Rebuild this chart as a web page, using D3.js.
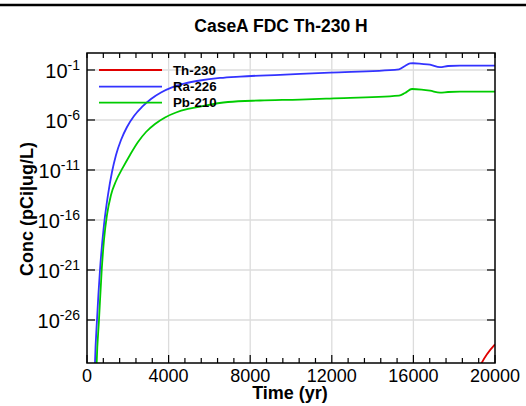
<!DOCTYPE html>
<html><head><meta charset="utf-8">
<script src="https://cdn.jsdelivr.net/npm/d3@7"></script>
<style>body{margin:0;background:#fff;}svg{display:block;font-family:"Liberation Sans",Arial,sans-serif;}</style>
</head><body><svg id="c" width="526" height="406"></svg>
<script>
const title = "CaseA FDC Th-230 H";
const xLabel = "Time (yr)";
const yLabel = "Conc (pCi|ug/L)";
const seriesNames = ["Th-230", "Ra-226", "Pb-210"];
const seriesColors = ["#e00000", "#3333ff", "#00cc00"];
const xTicks = [0, 4000, 8000, 12000, 16000, 20000];
const yTickExponents = [-1, -6, -11, -16, -21, -26];
const th230 = [[19000, 1e-32], [19348, 5e-31], [20000, 3.7e-29]];
const ra226 = [[360, 1e-33], [392, 5e-31], [490, 1e-26], [637, 1e-21], [833, 3.2e-17], [1029, 3.2e-14], [1225, 6.3e-12], [1422, 3.2e-10], [1667, 1e-8], [1961, 2e-7], [2304, 2.5e-6], [2696, 2e-5], [3137, 1.26e-4], [3627, 5.6e-4], [4167, 1.8e-3], [4804, 4.5e-3], [5539, 8.9e-3], [6520, 1.6e-2], [7500, 2.2e-2], [9461, 3.3e-2], [11912, 5.4e-2], [15294, 1.17e-1], [15588, 2.5e-1], [15833, 4.5e-1], [15980, 4.7e-1], [16400, 4.1e-1], [16814, 3.4e-1], [17304, 1.9e-1], [17700, 2.5e-1], [18284, 2.7e-1], [20000, 2.7e-1]];
const pb210 = [[440, 1e-33], [475, 5e-31], [588, 1e-26], [721, 1e-21], [833, 1e-18], [980, 3.2e-16], [1176, 3.2e-14], [1422, 7.9e-13], [1750, 1.6e-11], [2108, 3.2e-10], [2500, 6.3e-9], [2892, 6.3e-8], [3333, 4e-7], [3824, 1.8e-6], [4363, 5.6e-6], [4951, 1.26e-5], [5539, 2.2e-5], [6912, 6.3e-5], [8480, 8.9e-5], [10441, 1.1e-4], [11912, 1.4e-4], [15294, 2.7e-4], [15588, 5e-4], [15931, 1.26e-3], [16400, 1.1e-3], [16814, 8.5e-4], [17304, 5.4e-4], [17700, 6.3e-4], [18284, 6.8e-4], [20000, 6.8e-4]];
const seriesData = [th230, ra226, pb210];

const L = 87, R = 495, T = 53, B = 363;
const svg = d3.select("#c");
const x = d3.scaleLinear().domain([0, 20000]).range([L, R]);
const y = d3.scaleLog().domain([5e-31, 5]).range([B, T]);

// top page rule
svg.append("line").attr("x1", 0).attr("x2", 526).attr("y1", 5).attr("y2", 5).attr("stroke", "#000").attr("stroke-width", 2.5);

// grid
const g = svg.append("g");
g.selectAll(".gx").data(xTicks.slice(1, -1)).enter().append("line")
  .attr("x1", d => x(d)).attr("x2", d => x(d)).attr("y1", T).attr("y2", B)
  .attr("stroke", "#dcdcdc").attr("stroke-width", 1.3);
g.selectAll(".gy").data(yTickExponents).enter().append("line")
  .attr("x1", L).attr("x2", R).attr("y1", d => y(Math.pow(10, d))).attr("y2", d => y(Math.pow(10, d)))
  .attr("stroke", "#dcdcdc").attr("stroke-width", 1.3);

// clip
svg.append("clipPath").attr("id", "clip").append("rect").attr("x", L).attr("y", T).attr("width", R - L).attr("height", B - T);

const line = d3.line().x(d => x(d[0])).y(d => y(d[1])).curve(d3.curveMonotoneX);
const lines = svg.append("g").attr("clip-path", "url(#clip)");
seriesData.forEach((s, i) => {
  lines.append("path").attr("d", line(s)).attr("fill", "none").attr("stroke", seriesColors[i]).attr("stroke-width", 1.8);
});

// axes ticks (inward)
const minor = d3.range(0, 20001, 800);
const ax = svg.append("g").attr("stroke", "#000").attr("stroke-width", 1.2);
minor.forEach(v => {
  const len = (v % 4000 === 0) ? 8 : 5;
  ax.append("line").attr("x1", x(v)).attr("x2", x(v)).attr("y1", B).attr("y2", B - len);
  ax.append("line").attr("x1", x(v)).attr("x2", x(v)).attr("y1", T).attr("y2", T + 5);
});
yTickExponents.forEach(e => {
  const yy = y(Math.pow(10, e));
  ax.append("line").attr("x1", L).attr("x2", L + 8).attr("y1", yy).attr("y2", yy);
  ax.append("line").attr("x1", R).attr("x2", R - 8).attr("y1", yy).attr("y2", yy);
});

// frame
svg.append("rect").attr("x", L).attr("y", T).attr("width", R - L).attr("height", B - T)
  .attr("fill", "none").attr("stroke", "#000").attr("stroke-width", 1.5);

// x tick labels
svg.selectAll(".xl").data(xTicks).enter().append("text")
  .attr("x", d => x(d)).attr("y", 382).attr("text-anchor", "middle")
  .attr("font-size", 18).attr("fill", "#000").text(d => d);

// y tick labels
yTickExponents.forEach(e => {
  const yy = y(Math.pow(10, e));
  const t = svg.append("text").attr("x", 80).attr("y", yy + 8).attr("text-anchor", "end").attr("font-size", 20).attr("fill", "#000");
  t.append("tspan").text("10");
  t.append("tspan").attr("dy", -8).attr("font-size", 14).text(String(e));
});

// title
svg.append("text").attr("x", 281).attr("y", 31.5).attr("text-anchor", "middle")
  .attr("font-size", 17.5).attr("font-weight", "bold").text(title);
// axis titles
svg.append("text").attr("x", 290).attr("y", 399).attr("text-anchor", "middle")
  .attr("font-size", 18).attr("font-weight", "bold").text(xLabel);
svg.append("text").attr("transform", "translate(33,209) rotate(-90)").attr("text-anchor", "middle")
  .attr("font-size", 18).attr("font-weight", "bold").text(yLabel);

// legend
const legY = [70, 86.7, 102.7];
seriesNames.forEach((n, i) => {
  svg.append("line").attr("x1", 99).attr("x2", 162).attr("y1", legY[i]).attr("y2", legY[i])
    .attr("stroke", seriesColors[i]).attr("stroke-width", 1.8);
  svg.append("text").attr("x", 173).attr("y", legY[i] + 4.6).attr("font-size", 13.3)
    .attr("font-weight", "bold").text(n);
});
</script></body></html>
